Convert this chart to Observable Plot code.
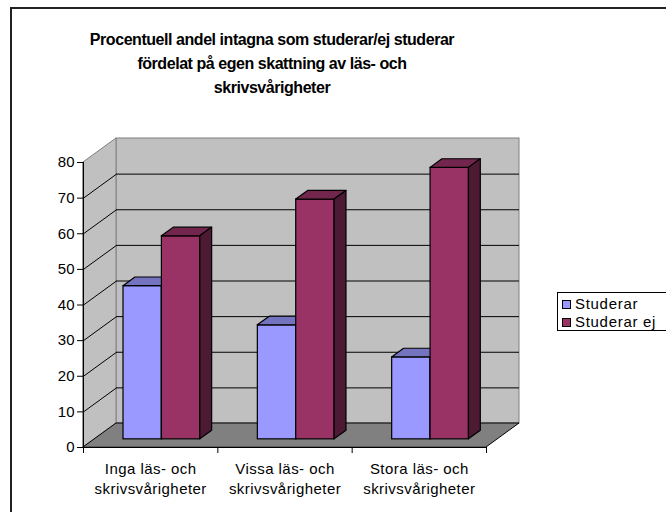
<!DOCTYPE html>
<html>
<head>
<meta charset="utf-8">
<script src="https://cdn.jsdelivr.net/npm/d3@7"></script>
<script src="https://cdn.jsdelivr.net/npm/@observablehq/plot@0.6"></script>
<style>
  html, body { margin: 0; padding: 0; background: #fff; }
  #wrap { position: relative; width: 666px; height: 512px; overflow: hidden; font-family: "Liberation Sans", Arial, sans-serif; }
  #frame { position: absolute; left: 10px; top: 7px; width: 800px; height: 700px; border-left: 2px solid #222; border-top: 2px solid #222; box-sizing: border-box; }
  #title { position: absolute; left: 0; width: 544px; top: 28px; text-align: center; font-weight: bold; font-size: 16px; letter-spacing: -0.45px; line-height: 24px; color: #000; }
  #legend { position: absolute; left: 557px; top: 292px; width: 130px; height: 39px; border: 1px solid #000; box-sizing: border-box; background: #fff; font-size: 15px; letter-spacing: 0.7px; }
  .row { position: absolute; left: 4px; height: 17px; line-height: 17px; white-space: nowrap; }
  .sw { display: inline-block; width: 7px; height: 7px; border: 1px solid #000; margin-right: 4px; vertical-align: 0px; }
  #chart { position: absolute; left: 0; top: 0; }
</style>
</head>
<body>
<div id="wrap">
  <div id="frame"></div>
  <div id="chart"></div>
  <div id="title"></div>
  <div id="legend"></div>
</div>
<script>
// ---- data ----
const title = ["Procentuell andel intagna som studerar/ej studerar", "fördelat på egen skattning av läs- och", "skrivsvårigheter"];
const categories = ["Inga läs- och\nskrivsvårigheter", "Vissa läs- och\nskrivsvårigheter", "Stora läs- och\nskrivsvårigheter"];
const seriesNames = ["Studerar", "Studerar ej"];
const studerar = [43, 32, 23];
const studerarEj = [57, 67.3, 76.2];
const yTicks = [0, 10, 20, 30, 40, 50, 60, 70, 80];

// ---- styles / projection ----
const frontColors = ["#9999FF", "#993366"];
const topColors = ["#7373BF", "#73264D"];
const sideColors = ["#4D4D80", "#4D1A33"];
const n = categories.length;
const yMax = yTicks[yTicks.length - 1];
const marginLeft = 83, marginRight = 180, marginTop = 162, marginBottom = 65;
const W = 666, H = 512;
const pxPerX = (W - marginLeft - marginRight) / n;
const pxPerY = (H - marginTop - marginBottom) / yMax;
const ddx = 33 / pxPerX;   // depth offset in x data units
const ddy = 24 / pxPerY;   // depth offset in y data units
const z1 = 0.34, z2 = 0.70; // bar depth span
const bw = 1 / 3.5;        // bar width (gap 150%)

const values = [studerar, studerarEj];
const bars = [];
categories.forEach((c, i) => {
  values.forEach((vals, s) => {
    const xl = i + 0.5 - bw + s * bw;
    bars.push({id: i * 2 + s, i, s, v: vals[i], xl, xr: xl + bw});
  });
});

function topPts(s) {
  return bars.filter(b => b.s === s).flatMap(b => [
    {id: b.id, y: b.v + ddy * z1, x1: b.xl + ddx * z1, x2: b.xr + ddx * z1},
    {id: b.id, y: b.v + ddy * z2, x1: b.xl + ddx * z2, x2: b.xr + ddx * z2}
  ]);
}
function sidePts(s) {
  return bars.filter(b => b.s === s).flatMap(b => [
    {id: b.id, x: b.xr + ddx * z1, y1: ddy * z1, y2: b.v + ddy * z1},
    {id: b.id, x: b.xr + ddx * z2, y1: ddy * z2, y2: b.v + ddy * z2}
  ]);
}

const leftWall = [{x: 0, y1: 0, y2: yMax}, {x: ddx, y1: ddy, y2: yMax + ddy}];
const floor = [{y: 0, x1: 0, x2: n}, {y: ddy, x1: ddx, x2: n + ddx}];
const grid = yTicks.slice(1, -1);

const barMarks = [];
[0, 1].forEach(s => {
  barMarks.push(
    Plot.rect(bars.filter(b => b.s === s), {
      x1: b => b.xl + ddx * z1, x2: b => b.xr + ddx * z1,
      y1: () => ddy * z1, y2: b => b.v + ddy * z1,
      fill: frontColors[s], stroke: "#000", strokeWidth: 1.2
    }),
    Plot.areaX(topPts(s), {y: "y", x1: "x1", x2: "x2", z: "id", fill: topColors[s], stroke: "#000", strokeWidth: 1.2, curve: "linear"}),
    Plot.areaY(sidePts(s), {x: "x", y1: "y1", y2: "y2", z: "id", fill: sideColors[s], stroke: "#000", strokeWidth: 1.2, curve: "linear"})
  );
});

const chart = Plot.plot({
  width: W, height: H,
  marginLeft, marginRight, marginTop, marginBottom,
  x: {type: "linear", domain: [0, n], axis: null},
  y: {type: "linear", domain: [0, yMax], axis: null},
  style: {fontFamily: "'Liberation Sans', Arial, sans-serif", fontSize: "15px", color: "#000", background: "transparent", overflow: "visible"},
  marks: [
    // walls and floor
    Plot.rect([0], {x1: () => ddx, x2: () => n + ddx, y1: () => ddy, y2: () => yMax + ddy, fill: "#C0C0C0", stroke: "#808080"}),
    Plot.areaY(leftWall, {x: "x", y1: "y1", y2: "y2", fill: "#C0C0C0", stroke: "#808080", curve: "linear"}),
    Plot.areaX(floor, {y: "y", x1: "x1", x2: "x2", fill: "#808080", stroke: "#000", strokeWidth: 1, curve: "linear"}),
    // gridlines
    Plot.ruleY(grid, {y: d => d + ddy, x1: () => ddx, x2: () => n + ddx, stroke: "#000", strokeOpacity: 1}),
    Plot.link(grid, {x1: () => 0, y1: d => d, x2: () => ddx, y2: d => d + ddy, stroke: "#000"}),
    // bars
    ...barMarks,
    // axes
    Plot.ruleX([0], {y1: 0, y2: yMax, stroke: "#000"}),
    Plot.ruleY([0], {x1: 0, x2: n, stroke: "#000"}),
    Plot.axisY(yTicks, {tickSize: 6, tickPadding: 3, fontSize: 15, stroke: "#000"}),
    Plot.axisX(d3.range(n + 1), {tickSize: 6, tickFormat: () => "", stroke: "#000"}),
    Plot.text(categories, {x: (d, i) => i + 0.5, y: () => 0, dy: 12, lineAnchor: "top", lineHeight: 1.35, fontSize: 15, fill: "#000"})
  ]
});
chart.querySelectorAll("text").forEach(t => {
  if (t.textContent.includes("läs")) t.style.letterSpacing = "0.45px";
});
document.getElementById("chart").appendChild(chart);

document.getElementById("title").innerHTML = title.join("<br>");
const leg = document.getElementById("legend");
seriesNames.forEach((name, s) => {
  const row = document.createElement("div");
  row.className = "row";
  row.style.top = (2 + s * 18) + "px";
  const sw = document.createElement("span");
  sw.className = "sw";
  sw.style.background = frontColors[s];
  row.appendChild(sw);
  row.appendChild(document.createTextNode(name));
  leg.appendChild(row);
});
</script>
</body>
</html>
